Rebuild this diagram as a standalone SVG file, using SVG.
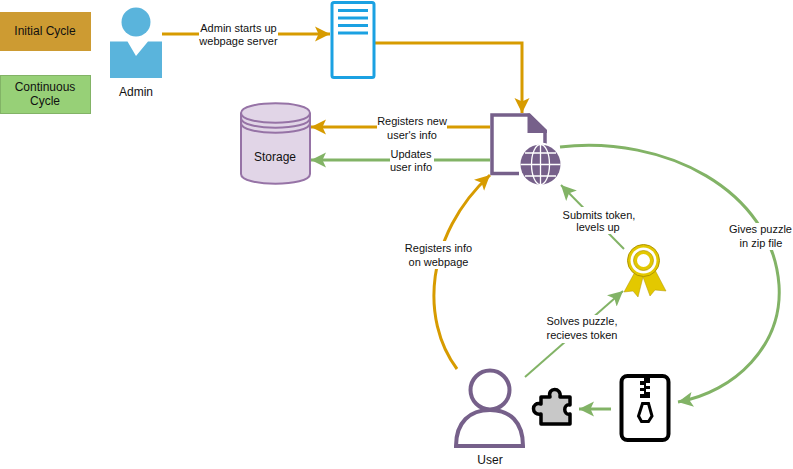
<svg xmlns="http://www.w3.org/2000/svg" width="793" height="469" viewBox="0 0 793 469">
<style>
text{font-family:"Liberation Sans",Arial,sans-serif;font-size:11px;fill:#111;text-anchor:middle}
text.b{font-size:12px}
.c{fill:none;stroke-width:3}
.o{stroke:#d79b00}.g{stroke:#82b366}
.lab{fill:#fff;stroke:none}
</style>
<defs>
<marker id="ao" markerUnits="userSpaceOnUse" markerWidth="16" markerHeight="16" refX="15" refY="8" orient="auto"><path d="M0 0.500L15 8L0 15.500L3.500 8Z" fill="#d79b00"/></marker>
<marker id="ag" markerUnits="userSpaceOnUse" markerWidth="16" markerHeight="16" refX="15" refY="8" orient="auto"><path d="M0 0.500L15 8L0 15.500L3.500 8Z" fill="#82b366"/></marker>
</defs>
<rect width="793" height="469" fill="#fff"/>
<g id="legend-initial"><rect x="0" y="12" width="91" height="39" fill="#cd9b32"/><text class="b" x="45" y="35">Initial Cycle</text></g>
<g id="legend-continuous"><rect x="0.500" y="75.500" width="90" height="38" fill="#97d077" stroke="#82b366"/><text class="b" x="45" y="91">Continuous</text><text class="b" x="45" y="105">Cycle</text></g>
<g id="connectors">
<path class="c o" d="M162 34H330" marker-end="url(#ao)"/>
<path class="c o" d="M375 43H522V113" marker-end="url(#ao)"/>
<path class="c o" d="M490 127H311" marker-end="url(#ao)"/>
<path class="c g" d="M490 160H311" marker-end="url(#ag)"/>
<path class="c o" d="M457 369C420 320 425 235 490 175" marker-end="url(#ao)"/>
<path class="c g" d="M560 147C665 135 772 190 779 285C783 345 735 392 678 402" marker-end="url(#ag)"/>
<path d="M525 377L623 291" fill="none" stroke="#82b366" stroke-width="2" marker-end="url(#ag)"/>
<path d="M624 249L561 185" fill="none" stroke="#82b366" stroke-width="2" marker-end="url(#ag)"/>
<path class="c g" d="M611 409H579" marker-end="url(#ag)"/>
</g>
<g id="conn-labels">
<rect class="lab" x="199" y="21" width="79" height="27"/><text x="238.500" y="32">Admin starts up</text><text x="238.500" y="45">webpage server</text>
<rect class="lab" x="377" y="116" width="70" height="26"/><text x="412" y="125">Registers new</text><text x="412" y="139">user's info</text>
<rect class="lab" x="390" y="147" width="44" height="28"/><text x="411" y="158">Updates</text><text x="411" y="171">user info</text>
<rect class="lab" x="405" y="241" width="68" height="28"/><text x="438.500" y="252">Registers info</text><text x="438.500" y="266">on webpage</text>
<rect class="lab" x="729" y="223" width="63" height="27"/><text x="760.500" y="233">Gives puzzle</text><text x="761" y="247">in zip file</text>
<rect class="lab" x="561" y="207" width="76" height="27"/><text x="599" y="219">Submits token,</text><text x="598" y="231">levels up</text>
<rect class="lab" x="546" y="315" width="74" height="28"/><text x="582" y="325">Solves puzzle,</text><text x="582" y="339">recieves token</text>
</g>
<g id="admin">
<circle cx="136" cy="22" r="14.500" fill="#5ab4dc"/>
<path d="M110 41.500H127.500L136 56L148 41.500H162V78H110Z" fill="#5ab4dc"/>
<text class="b" x="136" y="96">Admin</text>
</g>
<g id="server">
<rect x="332" y="2.500" width="42" height="75" rx="2" fill="#fff" stroke="#1ba1e2" stroke-width="3"/>
<path d="M338 10.500H368M338 18H368M338 25.500H368M338 33H368" stroke="#1ba1e2" stroke-width="3"/>
</g>
<g id="storage">
<path d="M241 113C241 100 310 100 310 113V174C310 187 241 187 241 174Z" fill="#e1d5e7" stroke="#9673a6" stroke-width="2"/>
<path d="M241 113C241 126 310 126 310 113M241 118C241 131 310 131 310 118M241 123C241 136 310 136 310 123" fill="none" stroke="#9673a6" stroke-width="2"/>
<text class="b" x="275" y="161">Storage</text>
</g>
<g id="webpage">
<path d="M492 115H529L545 131V165H492Z" fill="#fff"/>
<path d="M519 173.500H492V115H529L545 131V145" fill="none" stroke="#76608a" stroke-width="3.500"/>
<path d="M527.500 113.500H530L547 130V133H527.500Z" fill="#76608a"/>
<circle cx="540.500" cy="164.500" r="22" fill="#fff"/>
<circle cx="540.500" cy="164.500" r="20" fill="#76608a"/>
<g fill="none" stroke="#fff" stroke-width="1.300"><ellipse cx="540.500" cy="164.500" rx="9" ry="20"/><path d="M540.500 145V185M520.500 164.500H560.500M525 153H556M525 176H556"/></g>
</g>
<g id="badge">
<path d="M636 270L624 292L633 291L638 297L643 277L650 296L655 290L666 291L655 270Z" fill="#e3c800" stroke="#b09500" stroke-width="0.500"/>
<circle cx="643.500" cy="260.500" r="16" fill="#e3c800" stroke="#b09500" stroke-width="1"/>
<circle cx="643.500" cy="260.500" r="13" fill="#fff"/>
<circle cx="643.500" cy="260.500" r="10" fill="#e3c800" stroke="#b09500" stroke-width="0.700"/>
<circle cx="643.500" cy="260.500" r="6.500" fill="#fff"/>
</g>
<g id="user">
<circle cx="490" cy="390" r="19.500" fill="#fff" stroke="#76608a" stroke-width="4"/>
<path d="M456 446C456 422 470 410 490 410C510 410 523 422 523 446Z" fill="#fff" stroke="#76608a" stroke-width="4"/>
<text class="b" x="490" y="464">User</text>
</g>
<g id="puzzle">
<path d="M541 397H550C547 387 562 387 560 397H570V405C563 403 563 416 570 414V424H541V414C531 416 531 401 541 404Z" fill="#c8c8c8" stroke="#000" stroke-width="3.500" stroke-linejoin="round"/>
</g>
<g id="zip">
<rect x="621.500" y="376" width="47" height="64" rx="6" fill="#fff" stroke="#000" stroke-width="4"/>
<path d="M644 376H650V383H646V386H650V389H646V392H650V398H640V394H644V391H640V388H644V385H640V381H644Z" fill="#000"/>
<path d="M642.500 403.500H648.500L652 416L648.500 421.500H641.500L638.500 416Z" fill="#fff" stroke="#000" stroke-width="3"/>
</g>
</svg>
